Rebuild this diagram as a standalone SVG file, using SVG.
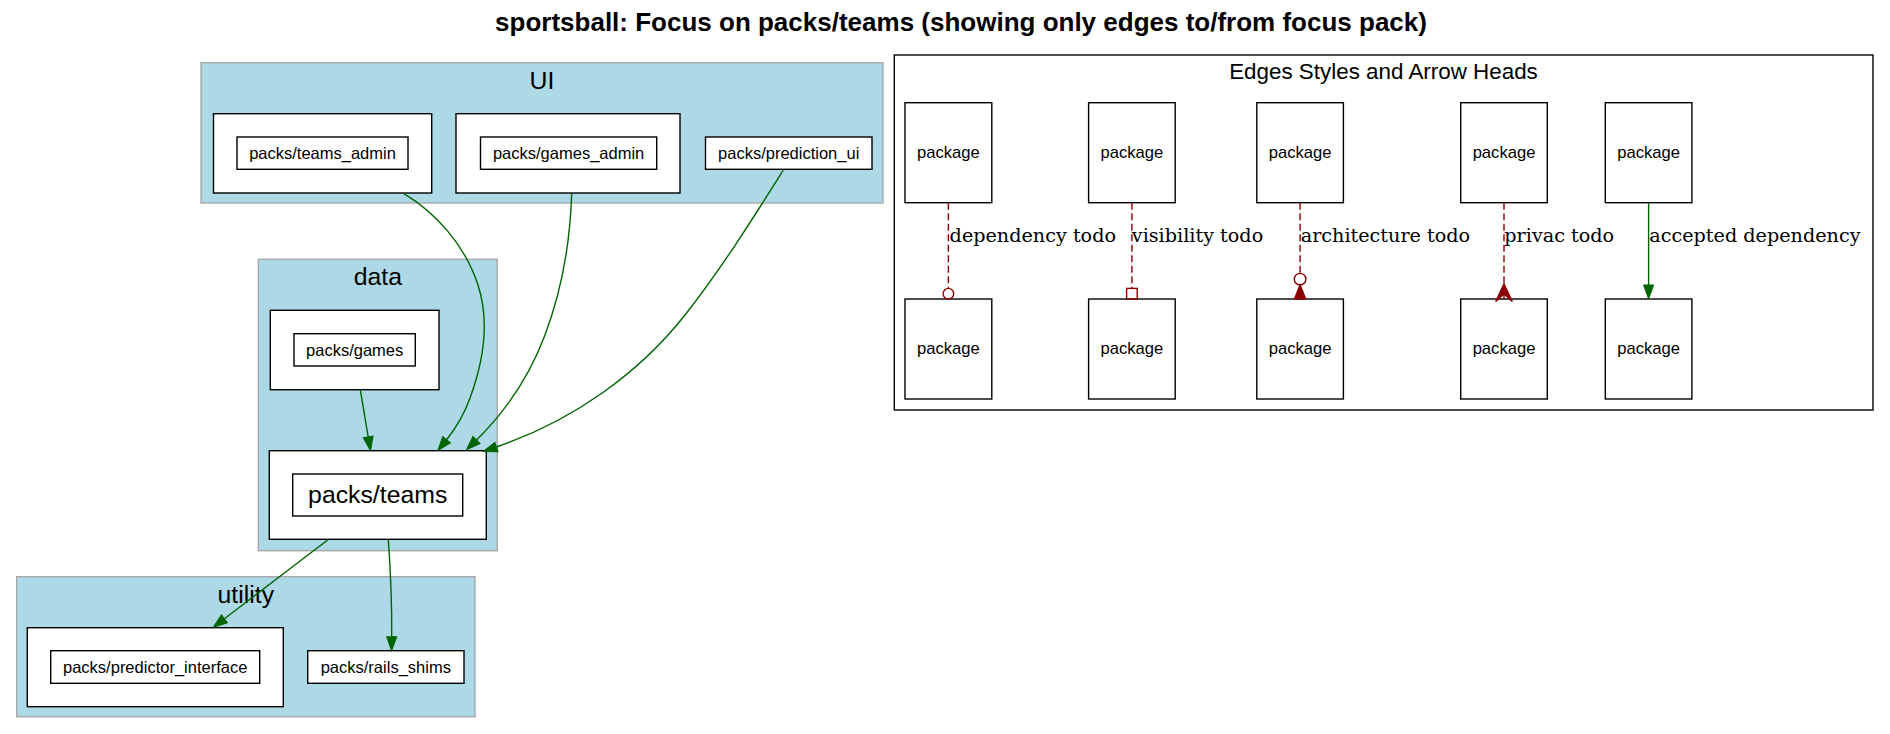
<svg xmlns="http://www.w3.org/2000/svg" width="1890" height="734" viewBox="0 0 1890 734">
<style>
.bg{fill:#ffffff}
.cl{fill:#add8e6;stroke:#a9a9a9;stroke-width:1.4}
.box{fill:#ffffff;stroke:#000000;stroke-width:1.4}
.lbl{font-family:"Liberation Sans",Arial,sans-serif;font-size:16.5px;fill:#000;text-anchor:middle}
.big{font-family:"Liberation Sans",Arial,sans-serif;font-size:24.8px;fill:#000;text-anchor:middle}
.title{font-family:"Liberation Sans",Arial,sans-serif;font-size:26px;font-weight:bold;fill:#000;text-anchor:middle}
.ltitle{font-family:"Liberation Sans",Arial,sans-serif;font-size:22.4px;fill:#000;text-anchor:middle}
.elbl{font-family:"DejaVu Serif",serif;font-size:19.2px;fill:#000}
.pk{font-family:"Liberation Sans",Arial,sans-serif;font-size:16.6px;fill:#000;text-anchor:middle}
.dep{fill:none;stroke:#006400;stroke-width:1.4}
.todo{fill:none;stroke:#8b0000;stroke-width:1.4;stroke-dasharray:7,3.5}
.todohead{fill:none;stroke:#8b0000;stroke-width:1.4}
.todofill{fill:#8b0000;stroke:#8b0000;stroke-width:1.4}
.frame{fill:none;stroke:#000;stroke-width:1.4}
</style>
<defs>
<marker id="arr" markerUnits="userSpaceOnUse" markerWidth="14" markerHeight="10" viewBox="0 0 14 10" refX="0" refY="5" orient="auto" overflow="visible">
<path d="M0,0 L14,5 L0,10 z" fill="#006400" stroke="#006400" stroke-width="1"/>
</marker>
</defs>
<rect class="bg" x="0" y="0" width="1890" height="734"/>
<text class="title" x="961" y="31">sportsball: Focus on packs/teams (showing only edges to/from focus pack)</text>

<g id="cluster_UI">
<rect class="cl" x="201" y="62.7" width="682" height="140.3"/>
<text class="big" x="542" y="89">UI</text>
</g>
<g id="cluster_data">
<rect class="cl" x="258.3" y="259.3" width="239" height="291.4"/>
<text class="big" x="377.8" y="285">data</text>
</g>
<g id="cluster_utility">
<rect class="cl" x="16.7" y="576.7" width="458.3" height="140"/>
<text class="big" x="245.8" y="603">utility</text>
</g>

<g id="node_teams_admin">
<rect class="box" x="213.5" y="113.7" width="218.2" height="79.3"/>
<rect class="box" x="237" y="137" width="171" height="32.3"/>
<text class="lbl" x="322.5" y="159">packs/teams_admin</text>
</g>
<g id="node_games_admin">
<rect class="box" x="456" y="113.7" width="224" height="79.3"/>
<rect class="box" x="480.5" y="137" width="176.2" height="32.3"/>
<text class="lbl" x="568.6" y="159">packs/games_admin</text>
</g>
<g id="node_prediction_ui">
<rect class="box" x="705.5" y="137" width="166.5" height="32.3"/>
<text class="lbl" x="788.7" y="159">packs/prediction_ui</text>
</g>
<g id="node_games">
<rect class="box" x="270.3" y="310.3" width="168.7" height="79.4"/>
<rect class="box" x="294" y="333.7" width="121.3" height="32.3"/>
<text class="lbl" x="354.7" y="355.7">packs/games</text>
</g>
<g id="node_teams">
<rect class="box" x="269.3" y="450.7" width="217" height="88.6"/>
<rect class="box" x="292.7" y="474" width="170" height="42"/>
<text class="big" x="377.7" y="503">packs/teams</text>
</g>
<g id="node_predictor_interface">
<rect class="box" x="27.3" y="627.7" width="256" height="79"/>
<rect class="box" x="50.7" y="650.7" width="209" height="32.6"/>
<text class="lbl" x="155.2" y="672.8">packs/predictor_interface</text>
</g>
<g id="node_rails_shims">
<rect class="box" x="307.7" y="650.7" width="156.3" height="32.6"/>
<text class="lbl" x="385.8" y="672.8">packs/rails_shims</text>
</g>

<g id="connectors">
<path class="dep" marker-end="url(#arr)" d="M403.5,193.3 C435,212 465,245 478,285 C490,322 484,360 470,398 C464,415 456,428 446.6,439.7"/>
<path class="dep" marker-end="url(#arr)" d="M571.7,193.3 C570,250 560,295 545,335 C530,375 505,412 476.5,440"/>
<path class="dep" marker-end="url(#arr)" d="M783.3,170 C755,215 722,268 685,315 C640,372 575,420 496.5,447"/>
<path class="dep" marker-end="url(#arr)" d="M360.3,389.7 L368.2,436.9"/>
<path class="dep" marker-end="url(#arr)" d="M328.3,539.5 L224.4,618.8"/>
<path class="dep" marker-end="url(#arr)" d="M388.3,539.5 C390.5,570 392,605 391.7,636.7"/>
</g>

<g id="legend">
<rect class="frame" x="894.3" y="55" width="978.7" height="355"/>
<text class="ltitle" x="1383.5" y="79">Edges Styles and Arrow Heads</text>
</g>
<g id="legend_pkg1_top"><rect class="box" x="905" y="102.7" width="86.8" height="100"/><text class="pk" x="948.4" y="157.8">package</text></g>
<g id="legend_pkg1_bottom"><rect class="box" x="905" y="299" width="86.8" height="100"/><text class="pk" x="948.4" y="354.3">package</text></g>
<g id="legend_pkg2_top"><rect class="box" x="1088.6" y="102.7" width="86.6" height="100"/><text class="pk" x="1131.9" y="157.8">package</text></g>
<g id="legend_pkg2_bottom"><rect class="box" x="1088.6" y="299" width="86.6" height="100"/><text class="pk" x="1131.9" y="354.3">package</text></g>
<g id="legend_pkg3_top"><rect class="box" x="1256.8" y="102.7" width="86.6" height="100"/><text class="pk" x="1300.1" y="157.8">package</text></g>
<g id="legend_pkg3_bottom"><rect class="box" x="1256.8" y="299" width="86.6" height="100"/><text class="pk" x="1300.1" y="354.3">package</text></g>
<g id="legend_pkg4_top"><rect class="box" x="1460.7" y="102.7" width="86.6" height="100"/><text class="pk" x="1504" y="157.8">package</text></g>
<g id="legend_pkg4_bottom"><rect class="box" x="1460.7" y="299" width="86.6" height="100"/><text class="pk" x="1504" y="354.3">package</text></g>
<g id="legend_pkg5_top"><rect class="box" x="1605.3" y="102.7" width="86.6" height="100"/><text class="pk" x="1648.6" y="157.8">package</text></g>
<g id="legend_pkg5_bottom"><rect class="box" x="1605.3" y="299" width="86.6" height="100"/><text class="pk" x="1648.6" y="354.3">package</text></g>

<g id="legend_connectors">
<path class="todo" d="M948.4,202.7 V288.3"/>
<circle class="todohead" cx="948.4" cy="293.7" r="5.3"/>
<text class="elbl" x="949.6" y="242">dependency todo</text>

<path class="todo" d="M1131.9,202.7 V288.4"/>
<rect class="todohead" x="1126.6" y="288.4" width="10.6" height="10.6"/>
<text class="elbl" x="1131.8" y="242">visibility todo</text>

<path class="todo" d="M1300.1,202.7 V273.4"/>
<circle class="todohead" cx="1300.1" cy="279.2" r="5.8"/>
<path class="todofill" d="M1300.1,285 L1305.7,299 L1294.5,299 Z"/>
<text class="elbl" x="1300.7" y="242">architecture todo</text>

<path class="todo" d="M1504,202.7 V285"/>
<path class="todofill" d="M1504,284 L1512.3,301.5 L1504,294 L1495.7,301.5 Z"/>
<path class="todohead" d="M1504,284 V299"/>
<text class="elbl" x="1504.3" y="242">privac todo</text>

<path class="dep" marker-end="url(#arr)" d="M1648.6,202.7 V285"/>
<text class="elbl" x="1649.3" y="242">accepted dependency</text>
</g>
</svg>
